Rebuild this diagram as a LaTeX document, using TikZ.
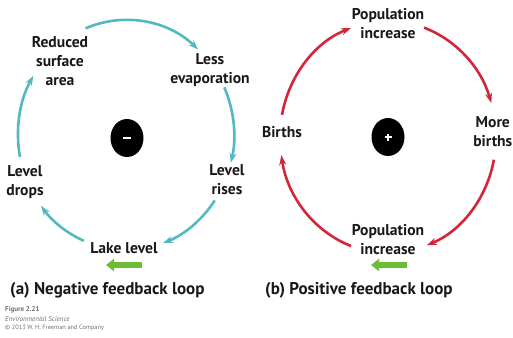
\documentclass[tikz,border=0pt]{standalone}
\usepackage{fontspec}
\setmainfont{PT Sans}
\usetikzlibrary{arrows.meta,calc,shapes.geometric}
\definecolor{loopteal}{RGB}{80,186,192}
\definecolor{loopred}{RGB}{212,38,58}
\definecolor{pushgreen}{RGB}{108,188,56}
\definecolor{labelink}{RGB}{24,24,24}
\definecolor{creditgray}{RGB}{110,110,110}
\begin{document}
\begin{tikzpicture}[x=1pt,y=1pt,
  lbl/.style={font=\bfseries\fontsize{15.6}{19}\selectfont, text=labelink, align=center, inner sep=0pt},
  loopcaption/.style={font=\bfseries\fontsize{17}{20}\selectfont, text=labelink, anchor=west, inner sep=0pt},
  hub/.style={ellipse, fill=black, minimum width=33pt, minimum height=38pt, inner sep=0pt},
  tealarc/.style={draw=loopteal, line width=2.6pt, -{Stealth[length=10pt,width=7pt]}},
  redarc/.style={draw=loopred, line width=2.6pt, -{Stealth[length=10pt,width=7pt]}},
  push/.style={draw=pushgreen, line width=6pt, -{Triangle[length=8pt,width=12pt]}},
  credit/.style={text=creditgray, anchor=west, inner sep=0pt}
]
\useasboundingbox (0,0) rectangle (513,-337);
\clip (0,0) rectangle (513,-337);

% ---------- negative feedback loop ----------
\coordinate (cL) at (126,-135);
\node[hub] (minus) at (127,-138) {};
\draw[white, line width=2pt] ($(minus)+(-4,0)$) -- ($(minus)+(4,0)$);

\node[lbl] (lake)    at (124,-248) {Lake level};
\node[lbl] (drops)   at (25,-182)  {Level\\drops};
\node[lbl] (reduced) at (60,-61)   {Reduced\\surface\\area};
\node[lbl] (lessev)  at (210,-70)  {Less\\evaporation};
\node[lbl] (rises)   at (227,-180) {Level\\rises};

\coordinate (a1) at ($(cL)+(247:108 and 115)$);
\coordinate (a2) at ($(cL)+(191:108 and 115)$);
\coordinate (a3) at ($(cL)+(112:108 and 115)$);
\coordinate (a4) at ($(cL)+(24.5:108 and 115)$);
\coordinate (a5) at ($(cL)+(-34.7:108 and 115)$);
\draw[tealarc] (a1) arc[start angle=247,  end angle=218, x radius=108, y radius=115];
\draw[tealarc] (a2) arc[start angle=191,  end angle=149, x radius=108, y radius=115];
\draw[tealarc] (a3) arc[start angle=112,  end angle=48,  x radius=108, y radius=115];
\draw[tealarc] (a4) arc[start angle=24.5, end angle=-14, x radius=108, y radius=115];
\draw[tealarc] (a5) arc[start angle=-34.7,end angle=-70, x radius=108, y radius=115];

\coordinate (gL1) at (142,-265);
\coordinate (gL2) at (106,-265);
\draw[push] (gL1) -- (gL2);

\node[loopcaption] (capa) at (10,-290) {(a) Negative feedback loop};

% ---------- positive feedback loop ----------
\coordinate (cR) at (388,-137);
\node[hub] (plus) at (388,-137) {};
\draw[white, line width=1.2pt] ($(plus)+(-3.5,0)$) -- ($(plus)+(3.5,0)$)
                                ($(plus)+(0,-3.5)$) -- ($(plus)+(0,3.5)$);

\node[lbl] (ptop)   at (388,-24)  {Population\\increase};
\node[lbl, anchor=east] (more) at (512.5,-132) {More\\births};
\node[lbl] (births) at (282,-132) {Births};
\node[lbl] (pbot)   at (388,-240) {Population\\increase};

\coordinate (b1) at ($(cR)+(250:108 and 116)$);
\coordinate (b2) at ($(cR)+(169:108 and 116)$);
\coordinate (b3) at ($(cR)+(70.5:108 and 116)$);
\coordinate (b4) at ($(cR)+(-11.3:108 and 116)$);
\draw[redarc] (b1) arc[start angle=250,  end angle=189,  x radius=108, y radius=116];
\draw[redarc] (b2) arc[start angle=169,  end angle=110,  x radius=108, y radius=116];
\draw[redarc] (b3) arc[start angle=70.5, end angle=17,   x radius=108, y radius=116];
\draw[redarc] (b4) arc[start angle=-11.3,end angle=-69,  x radius=108, y radius=116];

\coordinate (gR1) at (407,-265);
\coordinate (gR2) at (371,-265);
\draw[push] (gR1) -- (gR2);

\node[loopcaption] (capb) at (265,-290) {(b) Positive feedback loop};

% ---------- figure credit ----------
\node[credit, font=\bfseries\fontsize{7}{8}\selectfont] (fig) at (5,-310) {Figure 2.21};
\node[credit, font=\itshape\fontsize{7}{8}\selectfont] (book) at (5,-319) {Environmental Science};
\node[credit, font=\fontsize{6.3}{7}\selectfont] (copy) at (5,-328) {© 2013 W. H. Freeman and Company};
\end{tikzpicture}
\end{document}
